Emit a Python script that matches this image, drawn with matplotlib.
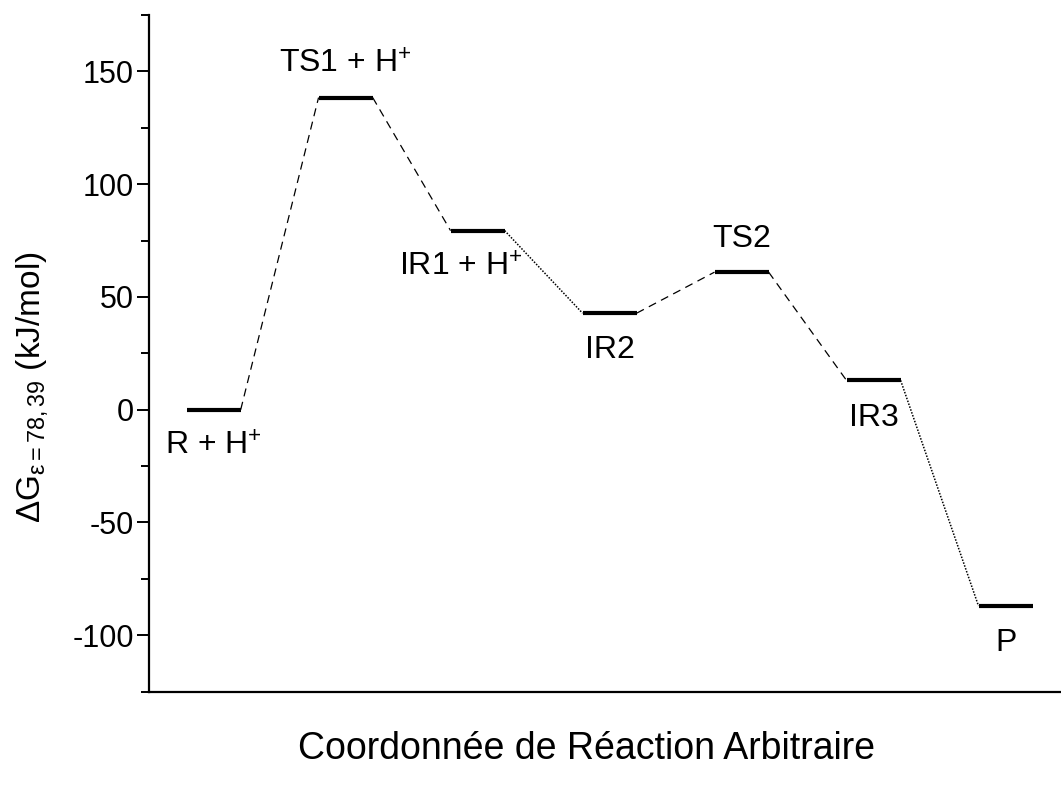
import numpy as np
import matplotlib.pyplot as plt
from matplotlib.ticker import MultipleLocator

plt.rcParams['font.family'] = ['Liberation Sans', 'DejaVu Sans']
plt.rcParams['mathtext.fontset'] = 'custom'
plt.rcParams['mathtext.rm'] = 'Liberation Sans'
plt.rcParams['mathtext.it'] = 'Liberation Sans'
plt.rcParams['axes.unicode_minus'] = False

# energy levels along the reaction path (kJ/mol)
species = ['R + H$^{+}$', 'TS1 + H$^{+}$', 'IR1 + H$^{+}$', 'IR2', 'TS2', 'IR3', 'P']
energies = [0.0, 138.4, 79.4, 42.8, 61.0, 13.0, -87.0]
# style of the connector leaving each level
connectors = ['dashed', 'dashed', 'dotted', 'dashed', 'dashed', 'dotted']
# label above or below the level
label_side = ['below', 'above', 'below', 'below', 'above', 'below', 'below']

half = 0.205
label_dx = [0.0, 0.0, -0.13, 0.0, 0.0, 0.0, 0.0]

fig = plt.figure(figsize=(10.61, 7.85), dpi=100)
ax = fig.add_axes([0.1404, 0.1189, 0.8596, 0.8620])

x = np.arange(1, len(energies) + 1)
for xi, e in zip(x, energies):
    ax.plot([xi - half, xi + half], [e, e], color='black', lw=3, solid_capstyle='butt')

dash_styles = {'dashed': ((0, (6.5, 4.5)), 0.9), 'dotted': ((0, (1, 1)), 1.1)}
for i, style in enumerate(connectors):
    ls, lw = dash_styles[style]
    ax.plot([x[i] + half, x[i + 1] - half], [energies[i], energies[i + 1]],
            color='black', lw=lw, linestyle=ls)

for xi, e, name, side, dx in zip(x, energies, species, label_side, label_dx):
    if side == 'above':
        ax.annotate(name, (xi + dx, e), xytext=(0, 13), textcoords='offset points',
                    ha='center', va='bottom', fontsize=23)
    else:
        ax.annotate(name, (xi + dx, e), xytext=(0, -16), textcoords='offset points',
                    ha='center', va='top', fontsize=23)

ax.set_xlim(0.51, 7.42)
ax.set_ylim(-125, 175)
ax.yaxis.set_major_locator(MultipleLocator(50))
ax.yaxis.set_minor_locator(MultipleLocator(25))
ax.set_xticks([])

ax.spines['top'].set_visible(False)
ax.spines['right'].set_visible(False)
ax.spines['left'].set_linewidth(1.6)
ax.spines['bottom'].set_linewidth(1.6)
ax.tick_params(axis='y', which='major', direction='out', length=9, width=1.4,
               labelsize=22, pad=2)
ax.tick_params(axis='y', which='minor', direction='out', length=6, width=1.4)

ax.set_xlabel('Coordonnée de Réaction Arbitraire', fontsize=27)
ax.xaxis.set_label_coords(0.48, -0.058)
ax.set_ylabel(r'$\Delta$G$_{\varepsilon\mathrm{=78,39}}$ (kJ/mol)', fontsize=24)
ax.yaxis.set_label_coords(-0.108, 0.45)

fig.savefig('out.png', dpi=100)
